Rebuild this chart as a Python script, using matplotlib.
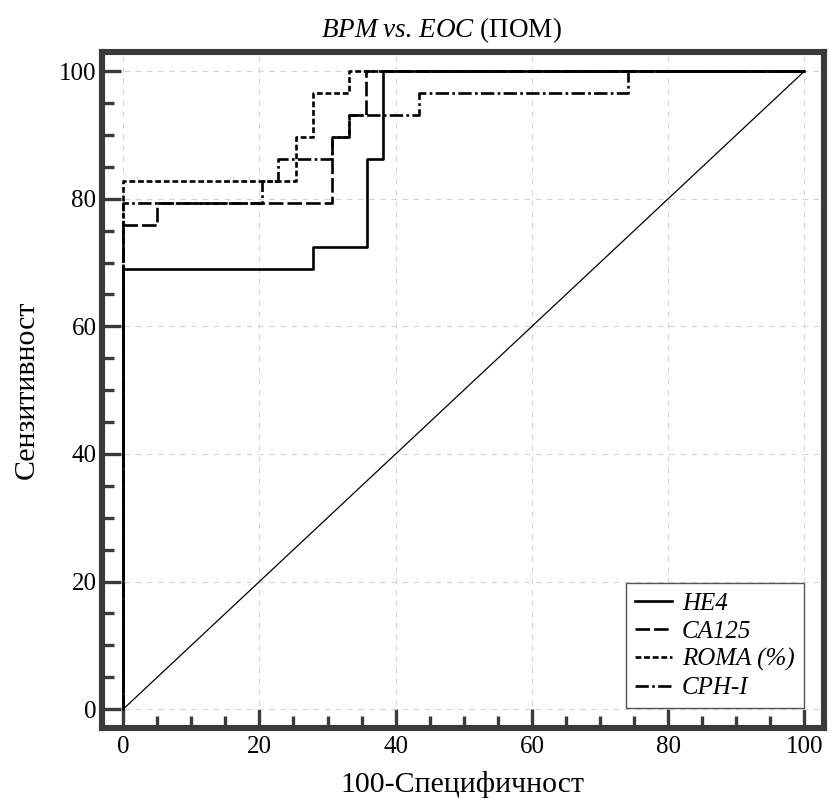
import matplotlib
matplotlib.use("Agg")
import matplotlib.pyplot as plt
from matplotlib.ticker import MultipleLocator

plt.rcParams["font.family"] = ["Liberation Serif", "DejaVu Serif"]
plt.rcParams["mathtext.fontset"] = "custom"
plt.rcParams["mathtext.it"] = "Liberation Serif:italic"
plt.rcParams["mathtext.rm"] = "Liberation Serif"
plt.rcParams["lines.scale_dashes"] = False

# ------------------------
# ROC operating points (100-specificity, sensitivity)
# drawn as steps: right first, then up
# ------------------------
he4_fpr = [0, 0, 27.9, 35.8, 38.2, 100]
he4_tpr = [0, 68.97, 72.41, 86.21, 100, 100]

ca125_fpr = [0, 0, 4.9, 30.6, 33.2, 35.7, 100]
ca125_tpr = [0, 75.86, 79.31, 89.66, 93.10, 100, 100]

roma_fpr = [0, 0, 25.4, 27.9, 33.2, 100]
roma_tpr = [0, 82.76, 89.66, 96.55, 100, 100]

cph_fpr = [0, 0, 20.4, 22.7, 30.6, 33.2, 43.4, 74.1, 100]
cph_tpr = [0, 79.31, 82.76, 86.21, 89.66, 93.10, 96.55, 100, 100]

chance = [0, 100]

labels = ["HE4", "CA125", "ROMA (%)", "CPH-I"]
title_text = r"$\mathit{BPM\;vs.\,EOC}$ (ПОМ)"
xlabel_text = "100-Специфичност"
ylabel_text = "Сензитивност"

frame_col = "#3a3a3a"

fig = plt.figure(figsize=(8.3, 7.98), dpi=100)
ax = fig.add_axes([0.1229, 0.0877, 0.8693, 0.8471])

ax.plot(chance, chance, color="black", lw=0.9)
ax.plot(he4_fpr, he4_tpr, color="black", lw=1.9, drawstyle="steps-post", label=labels[0])
ax.plot(ca125_fpr, ca125_tpr, color="black", lw=1.9, drawstyle="steps-post",
        dashes=(10.5, 2.9), label=labels[1])
ax.plot(roma_fpr, roma_tpr, color="black", lw=1.9, drawstyle="steps-post",
        dashes=(4.2, 2.0), label=labels[2])
ax.plot(cph_fpr, cph_tpr, color="black", lw=1.9, drawstyle="steps-post",
        dashes=(9.6, 2.4, 1.9, 2.4), label=labels[3])

ax.set_xlim(-3.1, 102.8)
ax.set_ylim(-2.95, 103)
ax.xaxis.set_major_locator(MultipleLocator(20))
ax.yaxis.set_major_locator(MultipleLocator(20))
ax.xaxis.set_minor_locator(MultipleLocator(5))
ax.yaxis.set_minor_locator(MultipleLocator(5))

ax.grid(True, which="major", color="#d4d4d4", linestyle=(0, (4, 4)), linewidth=0.8)
ax.set_axisbelow(True)

for sp in ax.spines.values():
    sp.set_linewidth(4.4)
    sp.set_color(frame_col)

ax.tick_params(which="major", direction="in", length=13.5, width=2.4,
               color=frame_col, labelsize=18, pad=4)
ax.tick_params(axis="x", which="major", pad=6)
ax.tick_params(which="minor", direction="in", length=8.5, width=2.4, color=frame_col)

ax.set_xlabel(xlabel_text, fontsize=21.5, labelpad=9)
ax.set_ylabel(ylabel_text, fontsize=21.5, labelpad=14)
ax.set_title(title_text, fontsize=19.5, pad=11, x=0.47)

leg = ax.legend(loc="lower right", prop={"family": "Liberation Serif", "style": "italic", "size": 18},
                frameon=True, fancybox=False, edgecolor="#555555", framealpha=1,
                borderaxespad=0.8, handlelength=1.5, handletextpad=0.4,
                borderpad=0.35, labelspacing=0.22)
leg.get_frame().set_linewidth(1.0)

fig.savefig("out.png", dpi=100)
